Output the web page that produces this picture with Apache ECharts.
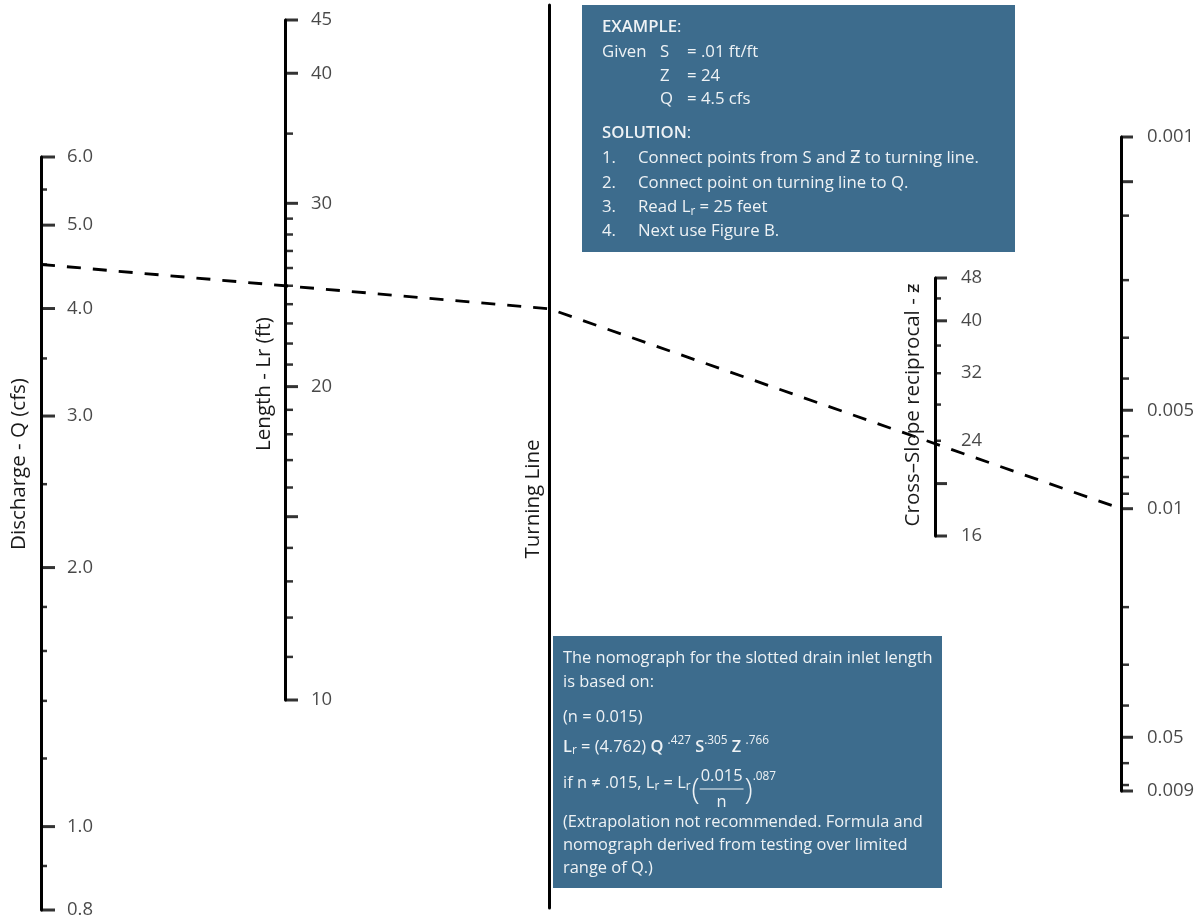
<!DOCTYPE html>
<html><head><meta charset="utf-8">
<script src="https://cdn.jsdelivr.net/npm/echarts@6/dist/echarts.min.js"></script>
<style>html,body{margin:0;padding:0;background:#fff}#c{width:1203px;height:922px}</style>
</head><body><div id="c"></div>
<script>
// Discharge - Q (cfs)
const qRange = [0.8, 6.0];
const qMajor = [0.8, 1.0, 2.0, 3.0, 4.0, 5.0, 6.0];
const qMinor = [0.9, 1.2, 1.4, 1.6, 1.8, 2.5, 3.5, 4.5, 5.5];
const qLabelVals = [0.8, 1.0, 2.0, 3.0, 4.0, 5.0, 6.0];
const qLabels = ['0.8', '1.0', '2.0', '3.0', '4.0', '5.0', '6.0'];
// Length - Lr (ft)
const lrRange = [10, 45];
const lrMajor = [10, 15, 20, 30, 40, 45];
const lrMinor = [11, 12, 13, 14, 16, 17, 18, 19, 21, 22, 23, 24, 25, 26, 27, 28, 29, 35];
const lrLabelVals = [10, 20, 30, 40, 45];
const lrLabels = ['10', '20', '30', '40', '45'];
// Cross-slope reciprocal - Z
const zRange = [16, 48];
const zMajor = [16, 20, 40, 48];
const zMinor = [24, 28, 32, 36, 44];
const zLabelVals = [16, 24, 32, 40, 48];
const zLabels = ['16', '24', '32', '40', '48'];
// Slope - S (ft/ft)
const sRange = [0.00073, 0.073];
const sMajor = [0.00073, 0.001, 0.005, 0.01, 0.05, 0.073];
const sMinor = [0.00127, 0.002, 0.003, 0.004, 0.006, 0.007, 0.008, 0.009, 0.02, 0.03, 0.04, 0.06, 0.07];
const sLabelVals = [0.00073, 0.005, 0.01, 0.05, 0.073];
const sLabels = ['0.001', '0.005', '0.01', '0.05', '0.009'];
// Worked example
const example = { Q: 4.5, Lr: 25, Z: 24, S: 0.01 };

// ---------- styling ----------
const FONT = "'Open Sans', Lato, sans-serif";
const INK = '#1a1a1a';
const BOX = '#3d6c8d';
const BOXTXT = '#eef2f5';

const ctx = document.createElement('canvas').getContext('2d');
function fontStr(size, weight) { return (weight || 'normal') + ' ' + size + 'px ' + FONT; }
function tw(t, size, weight) { ctx.font = fontStr(size, weight); return ctx.measureText(t).width; }
// font sizes fitted to the reference text widths
const TITLE = Math.min(21, 20 * 172 / tw('Discharge - Q (cfs)', 20));
const T = 16 * 341 / tw('Connect points from S and \u01B5 to turning line.', 16);
const B = 15 * 370 / tw('The nomograph for the slotted drain inlet length', 15);
const TICKFS = 18.5;

const chart = echarts.init(document.getElementById('c'), null, { renderer: 'canvas' });

const axesDef = [
  { left: 41,   top: 157, height: 753, type: 'log', range: qRange,  inv: false, major: qMajor,  minor: qMinor,  lv: qLabelVals,  lt: qLabels,  majLen: 14, minLen: 6 },
  { left: 285,  top: 20,  height: 680, type: 'log', range: lrRange, inv: false, major: lrMajor, minor: lrMinor, lv: lrLabelVals, lt: lrLabels, majLen: 13, minLen: 8 },
  { left: 549,  top: 5,   height: 903, type: 'value', range: [0, 1], inv: false, major: [], minor: [], lv: [], lt: [] },
  { left: 935,  top: 278, height: 258, type: 'log', range: zRange,  inv: false, major: zMajor,  minor: zMinor,  lv: zLabelVals,  lt: zLabels,  majLen: 12, minLen: 6 },
  { left: 1121, top: 137, height: 654, type: 'log', range: sRange,  inv: true,  major: sMajor,  minor: sMinor,  lv: sLabelVals,  lt: sLabels,  majLen: 12, minLen: 8 }
];

const grid = [], xAxis = [], yAxis = [], series = [];
axesDef.forEach((a, i) => {
  grid.push({ left: a.left, top: a.top, height: a.height, width: 40 });
  xAxis.push({ gridIndex: i, type: 'value', min: 0, max: 1, show: false });
  const y = {
    gridIndex: i, type: a.type, min: a.range[0], max: a.range[1], inverse: a.inv,
    axisLine: { show: true, onZero: false, lineStyle: { color: '#000', width: 3 } },
    axisTick: { show: false }, axisLabel: { show: false }, splitLine: { show: false }
  };
  if (a.type === 'log') y.logBase = 10;
  yAxis.push(y);
  if (a.major.length) {
    series.push({ type: 'scatter', xAxisIndex: i, yAxisIndex: i, silent: true, clip: false,
      symbol: 'rect', symbolSize: [a.majLen, 3], symbolOffset: [a.majLen / 2, 0],
      itemStyle: { color: '#000' }, data: a.major.map(v => [0, v]) });
    series.push({ type: 'scatter', xAxisIndex: i, yAxisIndex: i, silent: true, clip: false,
      symbol: 'rect', symbolSize: [a.minLen, 2.5], symbolOffset: [a.minLen / 2, 0],
      itemStyle: { color: '#000' }, data: a.minor.map(v => [0, v]) });
    series.push({ type: 'scatter', xAxisIndex: i, yAxisIndex: i, silent: true, clip: false,
      symbolSize: 0, itemStyle: { color: 'transparent' },
      label: { show: true, position: 'right', distance: 26, formatter: '{b}',
        color: INK, fontSize: TICKFS, fontFamily: FONT },
      data: a.lv.map((v, k) => ({ name: a.lt[k], value: [0, v] })) });
  }
});

chart.setOption({ animation: false, backgroundColor: '#fff', grid, xAxis, yAxis, series });

// ---------- text helpers ----------
function txt(x, y, t, size, opt) {
  opt = opt || {};
  return { type: 'text', x: x, y: y, rotation: opt.rot || 0, silent: true, z: 10,
    style: { text: t, font: fontStr(size, opt.w), fill: opt.fill || INK,
      textAlign: opt.align || 'left', textVerticalAlign: 'middle', verticalAlign: 'middle' } };
}
function seq(x, y, parts, fill, base) {
  let cx = x; const els = [];
  parts.forEach(p => {
    const s = p.s || base;
    els.push(txt(cx, y + (p.dy || 0), p.t, s, { w: p.w, fill: fill }));
    cx += tw(p.t, s, p.w);
  });
  return { els: els, x: cx };
}

const g = [];
// axis titles
g.push(txt(19, 464, 'Discharge - Q (cfs)', TITLE, { rot: Math.PI / 2, align: 'center' }));
g.push(txt(264, 384, 'Length - Lr (ft)', TITLE, { rot: Math.PI / 2, align: 'center' }));
g.push(txt(533, 499, 'Turning Line', TITLE, { rot: Math.PI / 2, align: 'center' }));
g.push(txt(913, 405, 'Cross\u2013Slope reciprocal - \u01B6', TITLE, { rot: Math.PI / 2, align: 'center' }));

// example box
g.push({ type: 'rect', shape: { x: 582, y: 5, width: 433, height: 247 }, style: { fill: BOX }, silent: true });
const tb = (x, y, t) => txt(x, y, t, T, { fill: BOXTXT });
g.push(...seq(602, 27, [{ t: 'EXAMPLE', w: '600' }, { t: ':' }], BOXTXT, T).els);
g.push(tb(602, 52, 'Given'), tb(660, 52, 'S'), tb(687, 52, '= .01 ft/ft'));
g.push(tb(660, 76, 'Z'), tb(687, 76, '= 24'));
g.push(tb(660, 99, 'Q'), tb(687, 99, '= 4.5 cfs'));
g.push(...seq(602, 133, [{ t: 'SOLUTION', w: '600' }, { t: ':' }], BOXTXT, T).els);
g.push(tb(602, 158, '1.'), tb(638, 158, 'Connect points from S and \u01B5 to turning line.'));
g.push(tb(602, 183, '2.'), tb(638, 183, 'Connect point on turning line to Q.'));
g.push(tb(602, 207, '3.'));
g.push(...seq(638, 207, [{ t: 'Read L' }, { t: 'r', s: T * 0.7, dy: 5 }, { t: ' = 25 feet' }], BOXTXT, T).els);
g.push(tb(602, 231, '4.'), tb(638, 231, 'Next use Figure B.'));

// formula box
g.push({ type: 'rect', shape: { x: 553, y: 636, width: 389, height: 252 }, style: { fill: BOX }, silent: true });
const bb = (x, y, t) => txt(x, y, t, B, { fill: BOXTXT });
const SUP = B * 0.72;
g.push(bb(563, 658, 'The nomograph for the slotted drain inlet length'));
g.push(bb(563, 682, 'is based on:'));
g.push(bb(563, 717, '(n = 0.015)'));
g.push(...seq(563, 747, [
  { t: 'L', w: '600' }, { t: 'r', s: SUP, dy: 4 }, { t: ' = (4.762) ' }, { t: 'Q', w: '600' }, { t: ' ' },
  { t: '.427', s: SUP, dy: -6 }, { t: ' ' }, { t: 'S', w: '600' }, { t: '.305', s: SUP, dy: -6 }, { t: ' ' },
  { t: 'Z', w: '600' }, { t: ' ' }, { t: '.766', s: SUP, dy: -6 }], BOXTXT, B).els);
const f1 = seq(563, 783, [{ t: 'if n \u2260 .015, L' }, { t: 'r', s: SUP, dy: 4 }, { t: ' = L' }, { t: 'r', s: SUP, dy: 4 }], BOXTXT, B);
g.push(...f1.els);
let fx = f1.x + 1;
g.push(txt(fx, 790, '(', 30, { fill: BOXTXT, w: '300' }));
fx += tw('(', 30, '300') + 1;
const numW = tw('0.015', B);
g.push(txt(fx, 776, '0.015', B, { fill: BOXTXT }));
g.push({ type: 'line', shape: { x1: fx - 1, y1: 789, x2: fx + numW + 1, y2: 789 }, style: { stroke: BOXTXT, lineWidth: 1.2 }, silent: true, z: 10 });
g.push(txt(fx + numW / 2, 802, 'n', B, { fill: BOXTXT, align: 'center' }));
fx += numW + 2;
g.push(txt(fx, 790, ')', 30, { fill: BOXTXT, w: '300' }));
fx += tw(')', 30, '300');
g.push(txt(fx, 777, '.087', SUP, { fill: BOXTXT }));
g.push(bb(563, 822, '(Extrapolation not recommended. Formula and'));
g.push(bb(563, 845, 'nomograph derived from testing over limited'));
g.push(bb(563, 868, 'range of Q.)'));

// worked-example dashed line through the library scales
const pQ = chart.convertToPixel({ gridIndex: 0 }, [0, example.Q]);
const pL = chart.convertToPixel({ gridIndex: 1 }, [0, example.Lr]);
const xT = chart.convertToPixel({ gridIndex: 2 }, [0, 0.5])[0];
const pS = chart.convertToPixel({ gridIndex: 4 }, [0, example.S]);
const yT = pQ[1] + (pL[1] - pQ[1]) * (xT - pQ[0]) / (pL[0] - pQ[0]);
g.push({ type: 'polyline', silent: true, z: 5,
  shape: { points: [pQ, [xT, yT], pS] },
  style: { stroke: '#000', lineWidth: 2.8, lineDash: [14, 12], fill: null } });

chart.setOption({ graphic: g });
</script></body></html>
